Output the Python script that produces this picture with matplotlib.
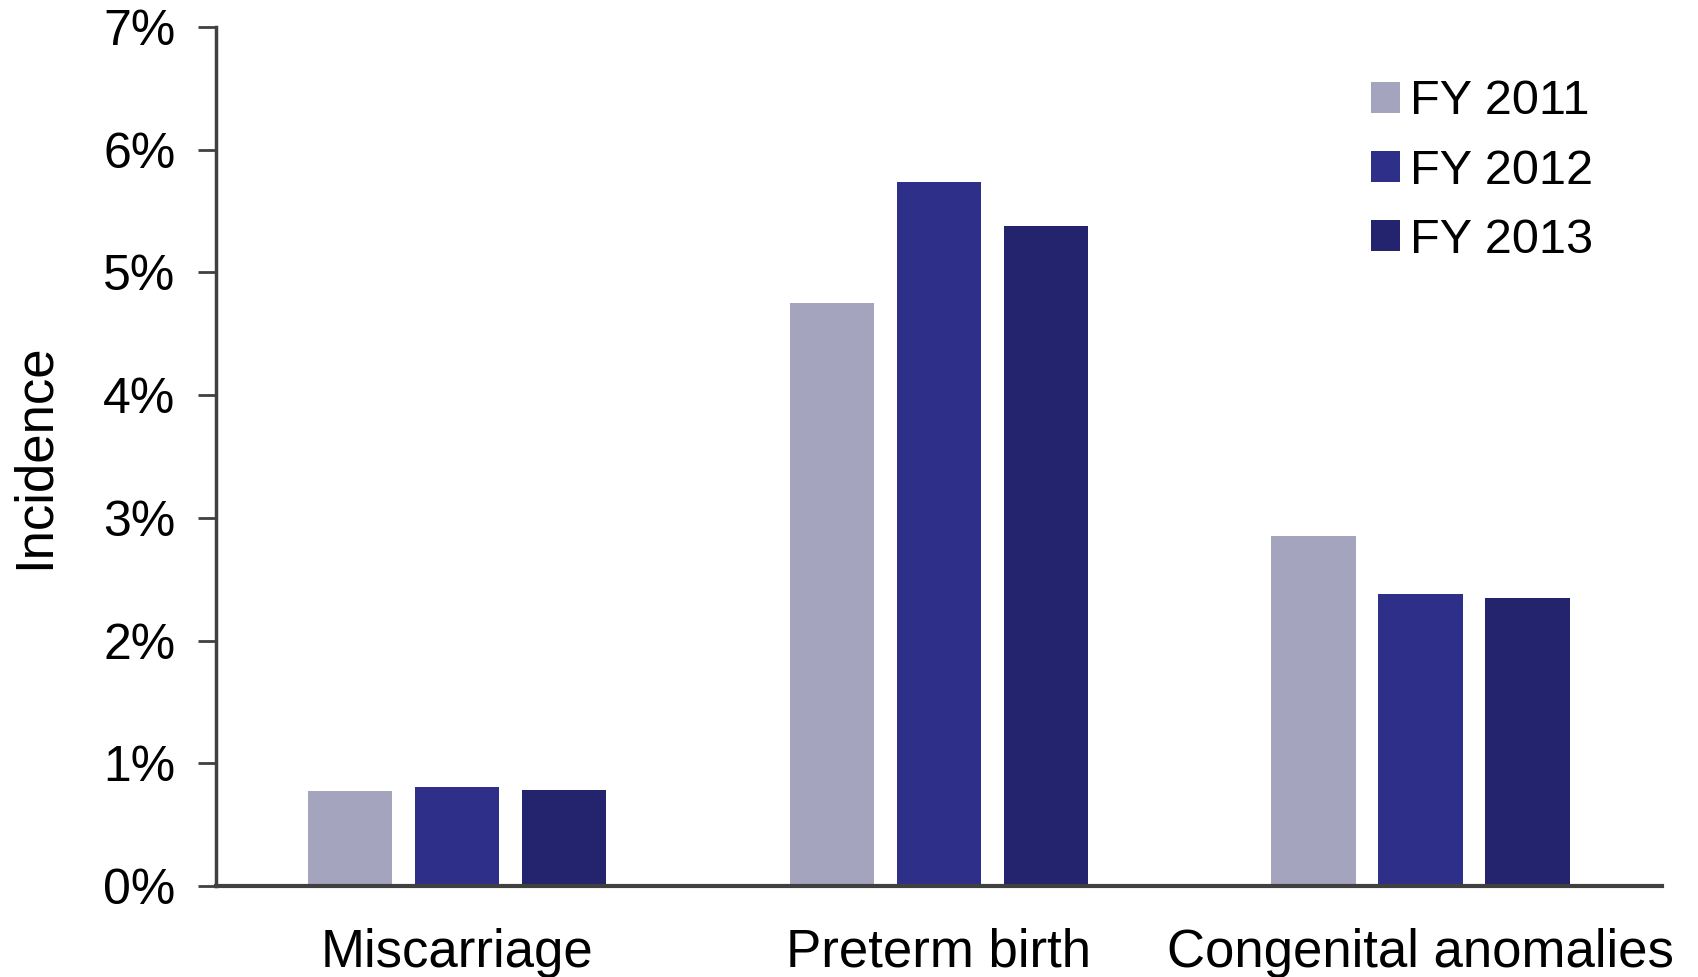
import matplotlib.pyplot as plt
import numpy as np
from matplotlib.ticker import FuncFormatter

categories = ['Miscarriage', 'Preterm birth', 'Congenital anomalies']
years = ['FY 2011', 'FY 2012', 'FY 2013']
fy2011 = [0.77, 4.75, 2.85]
fy2012 = [0.81, 5.74, 2.38]
fy2013 = [0.78, 5.38, 2.35]
colors = ['#A4A4BF', '#2E2F88', '#24236E']

plt.rcParams['font.family'] = ['Liberation Sans', 'DejaVu Sans']

fig = plt.figure(figsize=(16.99, 9.77), dpi=100)
ax = fig.add_axes([0.127, 0.0932, 0.851, 0.8792])

x = np.arange(len(categories))
width = 0.175
step = 0.222
for i, vals in enumerate([fy2011, fy2012, fy2013]):
    ax.bar(x + (i - 1) * step, vals, width, color=colors[i], label=years[i])

ax.set_xlim(-0.5, 2.5)
ax.set_ylim(0, 7)
ax.set_yticks(range(8))
ax.yaxis.set_major_formatter(FuncFormatter(lambda v, p: '%d%%' % v))
ax.set_xticks(x)
ax.set_xticklabels(categories, fontsize=38)
ax.tick_params(axis='x', length=0, pad=30)
ax.tick_params(axis='y', labelsize=36, length=13, width=2, color='#404040', pad=16, direction='out')

for s in ['top', 'right']:
    ax.spines[s].set_visible(False)
ax.spines['left'].set_color('#404040')
ax.spines['left'].set_linewidth(2.5)
ax.spines['bottom'].set_color('#404040')
ax.spines['bottom'].set_linewidth(3)

ax.set_ylabel('Incidence', fontsize=38)
ax.yaxis.set_label_coords(-0.108, 0.5)

ax.legend(loc='upper right', bbox_to_anchor=(0.983, 0.99), frameon=False, fontsize=35,
          handlelength=0.6, handleheight=0.6, handletextpad=0.2, labelspacing=0.5)

fig.savefig('out.png', dpi=100)
